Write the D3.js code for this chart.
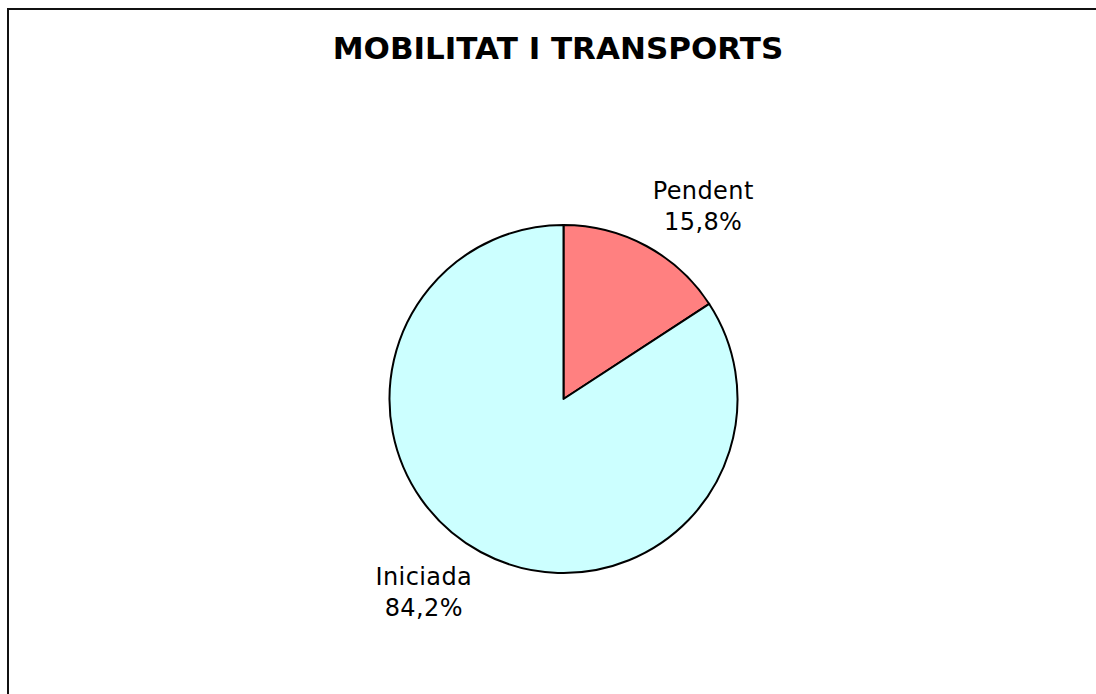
<!DOCTYPE html>
<html>
<head>
<meta charset="utf-8">
<script src="https://cdn.jsdelivr.net/npm/d3@7"></script>
<style>
  body { margin: 0; background: #fff; }
  svg { display: block; }
  .chart-title { font-family: Verdana, "DejaVu Sans", sans-serif; font-weight: bold; font-size: 31px; text-anchor: middle; }
  .slice-label { font-family: Verdana, "DejaVu Sans", sans-serif; font-size: 24px; letter-spacing: 0.4px; text-anchor: middle; }
</style>
</head>
<body>
<svg id="chart" width="1096" height="694"></svg>
<script>
// data
const categories = ['Pendent', 'Iniciada'];
const values = [15.8, 84.2];
const colors = ['#FF8080', '#CCFFFF'];
const title = 'MOBILITAT I TRANSPORTS';

const svg = d3.select('#chart');

// chart frame (open at right and bottom, as in the original)
svg.append('path')
    .attr('d', 'M8,700 L8,9 L1100,9')
    .attr('fill', 'none')
    .attr('stroke', '#111')
    .attr('stroke-width', 2);

svg.append('text')
    .attr('class', 'chart-title')
    .attr('x', 558)
    .attr('y', 59)
    .text(title);

const cx = 563.5, cy = 399, radius = 174;

const pie = d3.pie()
    .sort(null)
    .value(d => d.value);

const data = categories.map((c, i) => ({ name: c, value: values[i], color: colors[i] }));
const arcs = pie(data);

const arc = d3.arc()
    .innerRadius(0)
    .outerRadius(radius);

const g = svg.append('g')
    .attr('transform', `translate(${cx},${cy})`);

g.selectAll('.slice')
    .data(arcs)
    .enter()
    .append('path')
    .attr('class', 'slice')
    .attr('d', arc)
    .attr('fill', d => d.data.color)
    .attr('stroke', '#000')
    .attr('stroke-width', 2)
    .attr('stroke-linejoin', 'round');

// labels: placed outside, slightly rotated clockwise like the spreadsheet layout
const labelRadius = 238;
const shift = 7.5 * Math.PI / 180;
const fmt = v => d3.format('.1f')(v).replace('.', ',') + '%';

const labels = g.selectAll('.slice-label')
    .data(arcs)
    .enter()
    .append('text')
    .attr('class', 'slice-label')
    .attr('transform', d => {
        const a = (d.startAngle + d.endAngle) / 2 + shift;
        return `translate(${labelRadius * Math.sin(a)},${-labelRadius * Math.cos(a)})`;
    });

labels.append('tspan')
    .attr('x', 0)
    .attr('y', -7)
    .text(d => d.data.name);

labels.append('tspan')
    .attr('x', 0)
    .attr('y', 24)
    .text(d => fmt(d.data.value));
</script>
</body>
</html>
